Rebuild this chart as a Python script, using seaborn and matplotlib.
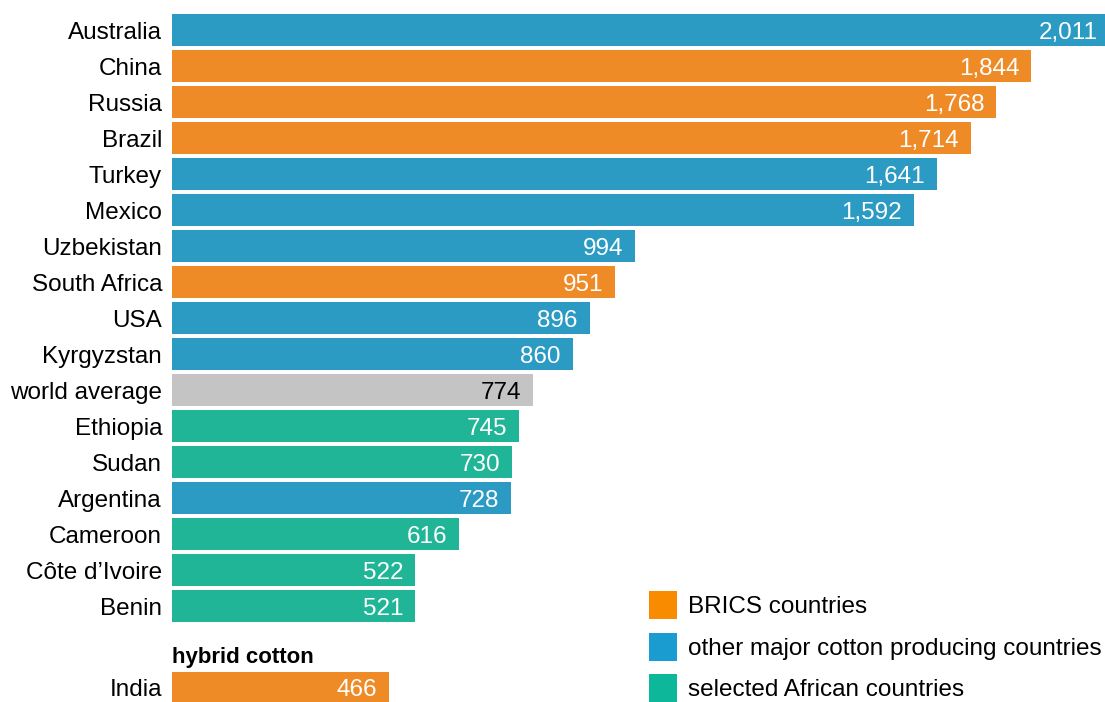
import matplotlib
matplotlib.use("Agg")
import matplotlib.pyplot as plt
from matplotlib.patches import Patch
import seaborn as sns

sns.set_theme(style="white")
plt.rcParams['font.family'] = ['Liberation Sans', 'DejaVu Sans']
plt.rcParams['text.color'] = 'black'
plt.rcParams['ytick.color'] = 'black'

# Data
countries = ['Australia', 'China', 'Russia', 'Brazil', 'Turkey', 'Mexico',
             'Uzbekistan', 'South Africa', 'USA', 'Kyrgyzstan', 'world average',
             'Ethiopia', 'Sudan', 'Argentina', 'Cameroon', 'Côte d’Ivoire', 'Benin']
values = [2011, 1844, 1768, 1714, 1641, 1592, 994, 951, 896, 860, 774,
          745, 730, 728, 616, 522, 521]
groups = ['other', 'BRICS', 'BRICS', 'BRICS', 'other', 'other', 'other', 'BRICS',
          'other', 'other', 'world', 'Africa', 'Africa', 'other', 'Africa',
          'Africa', 'Africa']
hybrid_country = ['India']
hybrid_value = [466]

palette = {'BRICS': '#ee8b26', 'other': '#2b9bc3', 'Africa': '#20b597', 'world': '#c4c4c4'}
legend_items = [('BRICS countries', '#f98b00'),
                ('other major cotton producing countries', '#1a9cd0'),
                ('selected African countries', '#0db89a')]

FS = 17.5
fig = plt.figure(figsize=(11.05, 7.02), dpi=100)
ax = fig.add_axes([0.15566, 0.11111, 0.84434, 0.87179])
sns.barplot(x=values, y=countries, hue=groups, palette=palette, dodge=False,
            legend=False, orient='h', width=0.88, linewidth=0, saturation=1, ax=ax)
ax.set_xlim(0, 2002)
ax.set_ylim(16.5, -0.5)

for i, (v, g) in enumerate(zip(values, groups)):
    ax.annotate(f'{v:,}', xy=(v, i), xytext=(-8.5, 0), textcoords='offset points',
                ha='right', va='center_baseline', fontsize=FS,
                color='black' if g == 'world' else 'white', annotation_clip=False)

# India (hybrid cotton)
ax2 = fig.add_axes([0.15566, 0.0, 0.84434, 32 / 702])
sns.barplot(x=hybrid_value, y=hybrid_country, color=palette['BRICS'],
            orient='h', width=0.88, linewidth=0, saturation=1, ax=ax2)
ax2.set_xlim(0, 2002)
ax2.set_ylim(0.389, -0.5)
for i, v in enumerate(hybrid_value):
    ax2.annotate(f'{v:,}', xy=(v, i), xytext=(-8.5, 0), textcoords='offset points',
                 ha='right', va='center_baseline', fontsize=FS, color='white',
                 annotation_clip=False)
fig.text(172 / 1105, 1 - 657 / 702, 'hybrid cotton', fontsize=16,
         fontweight='bold', ha='left', va='center')

for a in (ax, ax2):
    a.set_xticks([])
    a.set_xlabel('')
    a.set_ylabel('')
    sns.despine(ax=a, left=True, bottom=True)
    a.tick_params(axis='y', length=0, pad=7.2, labelsize=FS, colors='black')

handles = [Patch(facecolor=c, edgecolor='none') for _, c in legend_items]
fig.legend(handles, [t for t, _ in legend_items], loc='upper left',
           bbox_to_anchor=(649 / 1105, 1 - 591 / 702), frameon=False,
           fontsize=FS, handlelength=1.15, handleheight=1.4, handletextpad=0.45,
           labelspacing=0.56, borderpad=0, borderaxespad=0)

fig.savefig('out.png', dpi=100)
